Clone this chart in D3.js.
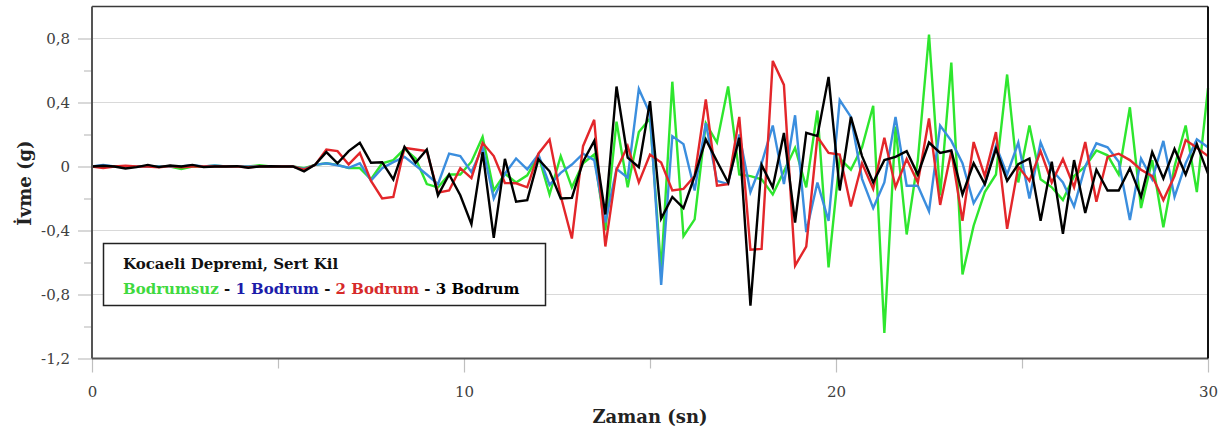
<!DOCTYPE html>
<html>
<head>
<meta charset="utf-8">
<script src="https://cdn.jsdelivr.net/npm/d3@7"></script>
<style>
  html, body { margin: 0; padding: 0; background: #fff; }
  svg { display: block; }
</style>
</head>
<body>
<svg id="chart" width="1223" height="432"></svg>
<script>
// ---- data ----
const timeStep = 0.3; // seconds between samples
const bodrumsuz = [0,0,0,0,0,0,0,0,-0.015,0,0,0.005,0,0,0,0.008,0,0,0,-0.01,0.01,0.02,0.01,-0.01,-0.01,-0.08,0.02,0.04,0.11,0.05,-0.11,-0.13,-0.05,-0.05,0.03,0.185,-0.15,-0.045,-0.1,-0.055,0.07,-0.175,0.065,-0.13,0.02,0.075,-0.4,0.28,-0.13,0.215,0.3,-0.65,0.53,-0.435,-0.33,0.27,0.15,0.5,-0.05,-0.06,-0.08,-0.175,-0.03,0.117,-0.13,0.35,-0.63,0.05,-0.02,0.12,0.38,-1.04,0.25,-0.425,0.04,0.825,-0.18,0.65,-0.675,-0.37,-0.16,-0.05,0.575,-0.1,0.256,-0.08,-0.13,-0.21,-0.06,0.0,0.1,0.07,-0.05,0.37,-0.26,0.04,-0.38,0.0,0.256,-0.16,0.49];
const bodrum1 = [0,0.01,0,0,0,0,0,0,0,0.008,0,0.006,0,0,0,0,0,0,0,-0.015,0.01,0.02,0.008,-0.008,0.02,-0.087,-0.01,0.027,0.06,0.006,-0.05,-0.11,0.08,0.065,-0.035,0.12,-0.2,-0.045,0.05,-0.018,0.075,-0.115,-0.04,0.012,0.08,0.04,-0.35,-0.015,-0.07,0.485,0.33,-0.74,0.19,0.14,-0.15,0.27,-0.09,-0.11,0.2,-0.16,0.02,0.256,-0.11,0.32,-0.41,-0.1,-0.34,0.415,0.31,-0.077,-0.26,-0.1,0.31,-0.12,-0.12,-0.28,0.256,0.16,0.02,-0.23,-0.11,0.13,-0.05,0.15,-0.2,0.15,-0.02,-0.1,-0.25,0.0,0.145,0.12,0.03,-0.335,0.05,-0.08,0.16,-0.19,0.02,0.17,0.12];
const bodrum2 = [0,-0.01,0,0.005,0,0,-0.005,0.003,-0.005,0,0,0,0,0,-0.005,0,0,0,0,-0.02,0.01,0.106,0.096,0.013,0.085,-0.09,-0.2,-0.19,0.117,0.106,0.096,-0.163,-0.15,-0.01,-0.073,0.148,0.065,-0.103,-0.105,-0.13,0.08,0.168,-0.185,-0.45,0.127,0.292,-0.5,-0.02,0.128,-0.1,0.075,0.025,-0.15,-0.14,-0.06,0.42,-0.12,-0.11,0.31,-0.52,-0.515,0.66,0.51,-0.62,-0.5,0.185,0.085,0.075,-0.25,0.02,-0.14,0.18,-0.13,0.047,-0.1,0.3,-0.24,0.096,-0.34,0.153,-0.06,0.215,-0.39,0.0,-0.09,0.096,-0.1,0.047,-0.13,0.153,-0.22,0.06,0.08,0.04,-0.02,-0.06,-0.21,-0.06,0.165,0.117,0.065];
const bodrum3 = [0,0.005,0,-0.012,-0.004,0.01,-0.004,0.006,0,0.01,-0.004,0,0,0.002,-0.008,0,0.002,0,0,-0.03,0.012,0.09,0.02,0.096,0.148,0.023,0.027,-0.081,0.123,0.023,0.106,-0.18,-0.05,-0.18,-0.36,0.09,-0.446,0.048,-0.22,-0.21,0.046,-0.03,-0.2,-0.196,0.03,0.16,-0.3,0.5,0.056,-0.004,0.408,-0.325,-0.19,-0.26,-0.06,0.169,0.033,-0.1,0.18,-0.87,0.01,-0.13,0.21,-0.35,0.21,0.19,0.56,-0.15,0.31,0.065,-0.1,0.04,0.06,0.096,-0.05,0.15,0.085,0.1,-0.175,0.02,-0.11,0.11,-0.09,0.015,0.05,-0.34,0.03,-0.42,0.04,-0.29,-0.02,-0.15,-0.15,-0.01,-0.19,0.09,-0.075,0.11,-0.05,0.14,-0.045];
const seriesNames = ["Bodrumsuz", "1 Bodrum", "2 Bodrum", "3 Bodrum"];
const yTicks = [-1.2, -0.8, -0.4, 0, 0.4, 0.8];
const yMinorTicks = [-1.0, -0.6, -0.2, 0.2, 0.6];
const xTicks = [0, 10, 20, 30];
const xMinorTicks = [5, 15, 25];
const legendTitle = "Kocaeli Depremi, Sert Kil";
const xTitle = "Zaman (sn)";
const yTitle = "İvme (g)";

// ---- styles ----
const lineColors = ["#2ee62e", "#3b8ede", "#e3262a", "#000000"];
const legendColors = ["#3fd93f", "#1c1caa", "#d62a2a", "#000000"];
const font = "'DejaVu Serif', serif";

const svg = d3.select("#chart");
const L = 92, R = 1208, T = 6.5, B = 358.5;
const x = d3.scaleLinear().domain([0, 30]).range([L, R]);
const y = d3.scaleLinear().domain([-1.2, 1.0]).range([B, T]);

// gridlines
svg.append("g").selectAll("line").data(yTicks.filter(d => d > -1.2)).join("line")
  .attr("x1", L).attr("x2", R)
  .attr("y1", d => y(d)).attr("y2", d => y(d))
  .attr("stroke", "#d9d9d9").attr("stroke-width", 1.2);

// y axis
const yAxis = d3.axisLeft(y).tickValues(yTicks).tickSize(14).tickPadding(8)
  .tickFormat(d => d === 0 ? "0" : d3.format(".1f")(d).replace(".", ",").replace("−", "-"));
const gy = svg.append("g").attr("transform", `translate(${L},0)`).call(yAxis);
gy.select(".domain").remove();
gy.selectAll(".tick line").attr("stroke", "#bfbfbf").attr("stroke-width", 1.2);
gy.selectAll(".tick text").attr("font-family", font).attr("font-size", 15).attr("fill", "#404040");
const yMinor = d3.axisLeft(y).tickValues(yMinorTicks).tickSize(8).tickFormat("");
const gym = svg.append("g").attr("transform", `translate(${L},0)`).call(yMinor);
gym.select(".domain").remove();
gym.selectAll(".tick line").attr("stroke", "#bfbfbf").attr("stroke-width", 1.2);

// x axis
const xAxis = d3.axisBottom(x).tickValues(xTicks).tickSize(14).tickPadding(14).tickFormat(d3.format("d"));
const gx = svg.append("g").attr("transform", `translate(0,${B})`).call(xAxis);
gx.select(".domain").remove();
gx.selectAll(".tick line").attr("stroke", "#bfbfbf").attr("stroke-width", 1.2);
gx.selectAll(".tick text").attr("font-family", font).attr("font-size", 15).attr("fill", "#404040");
const xMinor = d3.axisBottom(x).tickValues(xMinorTicks).tickSize(10).tickFormat("");
const gxm = svg.append("g").attr("transform", `translate(0,${B})`).call(xMinor);
gxm.select(".domain").remove();
gxm.selectAll(".tick line").attr("stroke", "#bfbfbf").attr("stroke-width", 1.2);

// series lines
const allSeries = [bodrumsuz, bodrum1, bodrum2, bodrum3];
const line = d3.line().x((d, i) => x(i * timeStep)).y(d => y(d));
svg.append("g").selectAll("path").data(allSeries).join("path")
  .attr("d", line)
  .attr("fill", "none")
  .attr("stroke", (d, i) => lineColors[i])
  .attr("stroke-width", 2.4)
  .attr("stroke-linejoin", "miter")
  .attr("stroke-miterlimit", 4);

// frame
svg.append("line").attr("x1", L).attr("x2", R).attr("y1", T).attr("y2", T).attr("stroke", "#3a3a3a").attr("stroke-width", 1.5);
svg.append("line").attr("x1", L).attr("x2", R).attr("y1", B).attr("y2", B).attr("stroke", "#555").attr("stroke-width", 2);
svg.append("line").attr("x1", L).attr("x2", L).attr("y1", T).attr("y2", B).attr("stroke", "#555").attr("stroke-width", 2);
svg.append("line").attr("x1", R).attr("x2", R).attr("y1", T).attr("y2", B).attr("stroke", "#111").attr("stroke-width", 2);

// legend
const lg = svg.append("g");
lg.append("rect").attr("x", 103.5).attr("y", 243.5).attr("width", 442).attr("height", 62)
  .attr("fill", "#fff").attr("stroke", "#222").attr("stroke-width", 1.5);
lg.append("text").attr("x", 123).attr("y", 269).attr("font-family", font).attr("font-weight", "bold")
  .attr("font-size", 15).attr("fill", "#111").text(legendTitle);
const t2 = lg.append("text").attr("x", 123).attr("y", 294).attr("font-family", font)
  .attr("font-weight", "bold").attr("font-size", 15);
seriesNames.forEach((n, i) => {
  if (i > 0) t2.append("tspan").attr("fill", "#111").text(" - ");
  t2.append("tspan").attr("fill", legendColors[i]).text(n);
});

// axis titles
svg.append("text").attr("x", (L + R) / 2).attr("y", 423).attr("text-anchor", "middle")
  .attr("font-family", font).attr("font-weight", "bold").attr("font-size", 18).attr("fill", "#222").text(xTitle);
svg.append("text").attr("transform", `translate(31,183) rotate(-90)`).attr("text-anchor", "middle")
  .attr("font-family", font).attr("font-weight", "bold").attr("font-size", 18).attr("fill", "#222").text(yTitle);
</script>
</body>
</html>
